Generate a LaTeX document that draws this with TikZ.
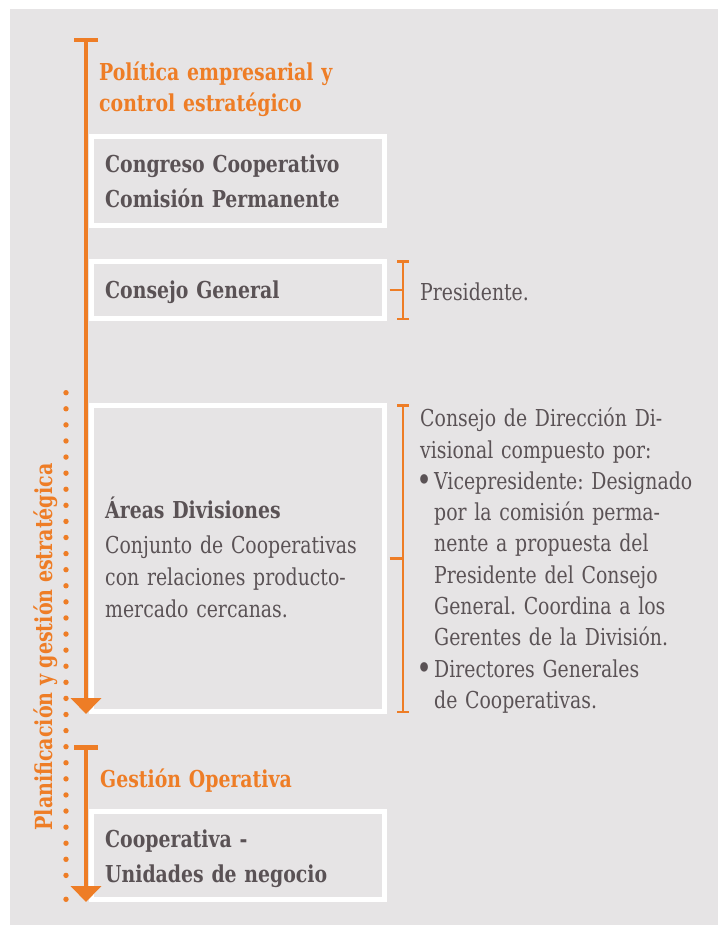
\documentclass[tikz,border=0pt]{standalone}
\usepackage{fontspec}
\setmainfont{DejaVu Serif Condensed}[FakeStretch=0.9]
\usetikzlibrary{arrows.meta}

\definecolor{panelgrey}{RGB}{230,228,229}
\definecolor{mcorange}{RGB}{238,125,38}
\definecolor{mctext}{RGB}{90,82,85}

\newcommand{\mcbullet}{\makebox[14pt][l]{\makebox[8pt][c]{\raisebox{-0.2ex}{\scalebox{1.4}{•}}}}}

\tikzset{
  box/.style={draw=white, line width=5pt, minimum width=293pt, inner sep=0pt},
  lbl/.style={anchor=base west, inner sep=0pt, text=mctext, text width=300pt, align=left,
    font=\fontsize{23.3}{32}\selectfont},
  boldlbl/.style={lbl, font=\bfseries\fontsize{23.3}{35}\selectfont},
  head/.style={lbl, text=mcorange, font=\bfseries\fontsize{23.3}{31}\selectfont},
  axis/.style={mcorange, line width=4.5pt},
  brk/.style={mcorange, line width=2.5pt},
}

\begin{document}
\frenchspacing
\begin{tikzpicture}[x=1pt,y=-1pt]
  \useasboundingbox (0,0) rectangle (718,925);
  \fill[panelgrey] (10,9) rectangle (718,925);

  % white frames
  \node[box, minimum height=89pt] (congreso) at (238,181) {};
  \node[box, minimum height=57pt] (consejo) at (238,290) {};
  \node[box, minimum height=306pt] (areas) at (238,558.5) {};
  \node[box, minimum height=88pt] (coop) at (238,855.5) {};

  % headings
  \node[head] (politica) at (99,81) {Política empresarial y\\control estratégico};
  \node[head] (gestion) at (100,787) {Gestión Operativa};

  % texts in the frames
  \node[boldlbl] (congresotxt) at (105,173) {Congreso Cooperativo\\Comisión Permanente};
  \node[boldlbl] (consejotxt) at (105,298) {Consejo General};
  \node[lbl] (areastxt) at (105,518) {\textbf{Áreas Divisiones}\\[3pt]Conjunto de Cooperativas\\con relaciones producto-\\mercado cercanas.};
  \node[boldlbl] (cooptxt) at (105,847) {Cooperativa -\\Unidades de negocio};

  % arrows on the left
  \coordinate (politop) at (86,38);
  \coordinate (polibot) at (86,714);
  \draw[axis, {Bar[width=24pt]}-{Triangle[width=30pt,length=16pt]}] (politop) -- (polibot);
  \coordinate (opertop) at (86,745);
  \coordinate (operbot) at (86,902);
  \draw[axis, {Bar[width=24pt]}-{Triangle[width=30pt,length=16pt]}] (opertop) -- (operbot);

  % dotted line
  \foreach \k in {0,...,30}
    \fill[mcorange] (66,392.7+16.09*\k) circle[radius=2.7pt];
  \fill[mcorange] (66,899.3) circle[radius=2.7pt];
  \node[rotate=90, anchor=base, inner sep=0pt, text=mcorange,
    font=\bfseries\fontsize{23.5}{24}\selectfont] (planif) at (52,647) {Planificación y gestión estratégica};

  % brackets on the right
  \coordinate (presitop) at (403,260);
  \coordinate (presibot) at (403,320);
  \draw[brk, {Bar[width=12pt]}-{Bar[width=12pt]}] (presitop) -- (presibot);
  \draw[brk, shorten <=2.5pt] (consejo.east) -- (consejo.east -| presitop);
  \node[lbl] (presidente) at (420,300) {Presidente.};

  \coordinate (divtop) at (403,404);
  \coordinate (divbot) at (403,713);
  \draw[brk, {Bar[width=12pt]}-{Bar[width=12pt]}] (divtop) -- (divbot);
  \draw[brk, shorten <=2.5pt] (areas.east) -- (areas.east -| divtop);
  \node[lbl, font=\fontsize{23.3}{31.3}\selectfont] (direccion) at (420,426.7) {Consejo de Dirección Di-\\
    visional compuesto por:\\
    \mcbullet Vicepresidente: Designado\\
    \hspace*{14pt}por la comisión perma-\\
    \hspace*{14pt}nente a propuesta del\\
    \hspace*{14pt}Presidente del Consejo\\
    \hspace*{14pt}General. Coordina a los\\
    \hspace*{14pt}Gerentes de la División.\\
    \mcbullet Directores Generales\\
    \hspace*{14pt}de Cooperativas.};
\end{tikzpicture}
\end{document}
